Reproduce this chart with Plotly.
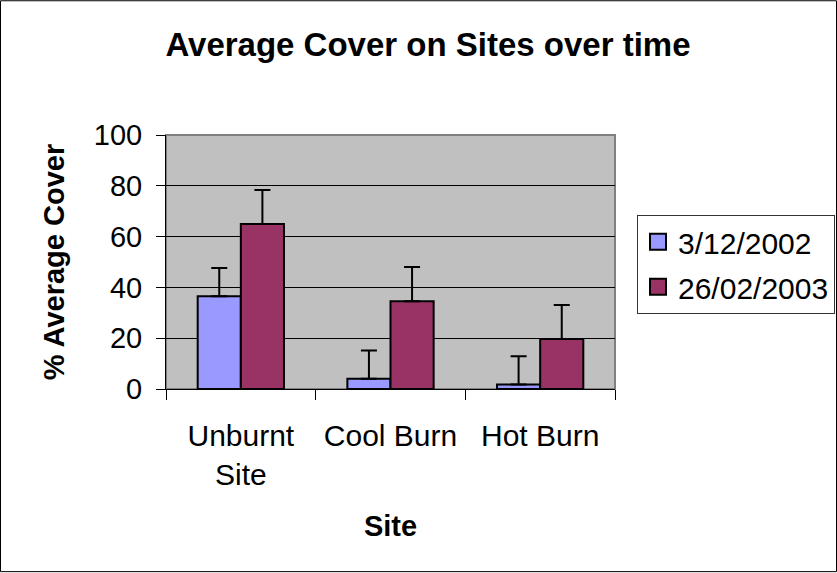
import plotly.graph_objects as go

sites = ["Unburnt<br>Site", "Cool Burn", "Hot Burn"]
series_names = ["3/12/2002", "26/02/2003"]
cover_2002 = [36.5, 4.0, 1.8]
cover_2003 = [65.0, 34.5, 19.7]
err_2002 = [11.1, 11.2, 11.1]
err_2003 = [13.3, 13.5, 13.4]
y_ticks = [0, 20, 40, 60, 80, 100]

colors = ["#9999FF", "#993366"]
FONT = "Arial, Liberation Sans, sans-serif"

W, H = 837, 573
ML, MR, MT, MB = 166, 222, 135, 183.5
PW, PH = W - ML - MR, H - MT - MB

fig = go.Figure()
for name, vals, errs, col in zip(series_names, [cover_2002, cover_2003],
                                 [err_2002, err_2003], colors):
    fig.add_trace(go.Bar(
        x=sites, y=vals, name=name, showlegend=False,
        marker=dict(color=col, line=dict(color="black", width=2)),
        error_y=dict(type="data", symmetric=False, array=errs,
                     arrayminus=[0] * len(errs), color="black",
                     thickness=2, width=8),
    ))
for i, (name, col) in enumerate(zip(series_names, colors)):
    fig.add_trace(go.Scatter(
        x=[None], y=[None], mode="markers", name=name, legendgroup=f"g{i}",
        marker=dict(symbol="square", size=16, color=col,
                    line=dict(color="black", width=2)),
    ))

def px2x(p):
    return (p - ML) / PW

def px2y(p):
    return (H - MB - p) / PH

fig.update_layout(
    width=W, height=H,
    margin=dict(l=ML, r=MR, t=MT, b=MB, autoexpand=False),
    paper_bgcolor="white", plot_bgcolor="#C0C0C0",
    font=dict(family=FONT, size=30, color="black"),
    barmode="group", bargap=0.4235, bargroupgap=0,
    title=dict(text="<b>Average Cover on Sites over time</b>",
               font=dict(size=33, family=FONT, color="black"),
               x=428 / W, xref="container", xanchor="center",
               y=1 - 44.8 / H, yref="container", yanchor="middle"),
    xaxis=dict(
        title=dict(text="<b>Site</b>", font=dict(size=29), standoff=25),
        showline=True, linecolor="black", linewidth=1,
        ticks="outside", tickson="boundaries", ticklen=10, tickcolor="black",
        showgrid=False, automargin=False, ticklabelstandoff=20,
    ),
    yaxis=dict(
        title=dict(text="<b>% Average Cover</b>", font=dict(size=29), standoff=20),
        range=[0, 100], tickvals=y_ticks, tickfont=dict(size=29),
        showline=True, linecolor="black", linewidth=1,
        ticks="outside", ticklen=9, tickcolor="black",
        showgrid=True, gridcolor="black", gridwidth=1,
        zeroline=False, automargin=False, ticklabelstandoff=8,
    ),
    legend=dict(
        x=px2x(637), y=px2y(215), xanchor="left", yanchor="top",
        bgcolor="white", bordercolor="#333333", borderwidth=1,
        font=dict(size=30), tracegroupgap=3, traceorder="grouped",
        itemsizing="trace",
    ),
    shapes=[
        dict(type="rect", xref="paper", yref="paper", x0=0, x1=1, y0=0, y1=1,
             line=dict(color="#808080", width=2), layer="below"),
        dict(type="rect", xref="paper", yref="paper",
             x0=px2x(0.5), x1=px2x(W - 0.5), y0=px2y(H - 0.5), y1=px2y(0.5),
             line=dict(color="black", width=1)),
    ],
)

fig.write_html("out.html", config={"displayModeBar": False},
               post_script="document.body.style.margin='0';")
